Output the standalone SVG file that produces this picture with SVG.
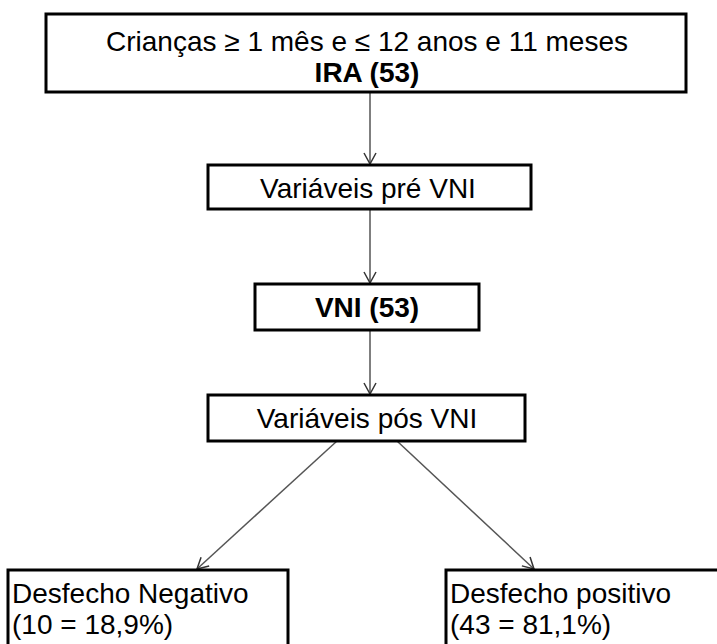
<svg xmlns="http://www.w3.org/2000/svg" width="717" height="644" viewBox="0 0 717 644">
<style>
.box{fill:#fff;stroke:#000;stroke-width:3}
.t{font-family:"Liberation Sans",Arial,sans-serif;font-size:28px;fill:#000}
.c{text-anchor:middle}
.b{font-weight:bold}
.ln{stroke:#555;stroke-width:1.5;fill:none}
</style>
<defs>
<marker id="ah" markerWidth="14" markerHeight="14" refX="12" refY="7" orient="auto" markerUnits="userSpaceOnUse">
<path d="M1,1 L12,7 L1,13" fill="none" stroke="#333" stroke-width="1.5"/>
</marker>
</defs>
<rect width="717" height="644" fill="#fff"/>
<g id="connectors">
<line class="ln" x1="370" y1="92" x2="370" y2="164" marker-end="url(#ah)"/>
<line class="ln" x1="370" y1="209" x2="370" y2="283" marker-end="url(#ah)"/>
<line class="ln" x1="370" y1="330" x2="370" y2="394" marker-end="url(#ah)"/>
<line class="ln" x1="337" y1="441" x2="197" y2="569" marker-end="url(#ah)"/>
<line class="ln" x1="397" y1="441" x2="534" y2="569" marker-end="url(#ah)"/>
</g>
<g id="n1">
<rect class="box" x="46" y="14" width="640" height="78"/>
<text class="t c" x="367" y="51">Crianças ≥ 1 mês e ≤ 12 anos e 11 meses</text>
<text class="t c b" x="367" y="82">IRA (53)</text>
</g>
<g id="n2">
<rect class="box" x="208" y="165" width="323" height="44"/>
<text class="t c" x="368" y="198">Variáveis pré VNI</text>
</g>
<g id="n3">
<rect class="box" x="255" y="284" width="224" height="46"/>
<text class="t c b" x="367" y="317">VNI (53)</text>
</g>
<g id="n4">
<rect class="box" x="208" y="395" width="317" height="46"/>
<text class="t c" x="367" y="428">Variáveis pós VNI</text>
</g>
<g id="n5">
<rect class="box" x="8" y="570" width="280" height="80"/>
<text class="t" x="12" y="603">Desfecho Negativo</text>
<text class="t" x="12" y="634">(10 = 18,9%)</text>
</g>
<g id="n6">
<rect class="box" x="446" y="570" width="280" height="80"/>
<text class="t" x="450" y="603">Desfecho positivo</text>
<text class="t" x="450" y="634">(43 = 81,1%)</text>
</g>
</svg>
